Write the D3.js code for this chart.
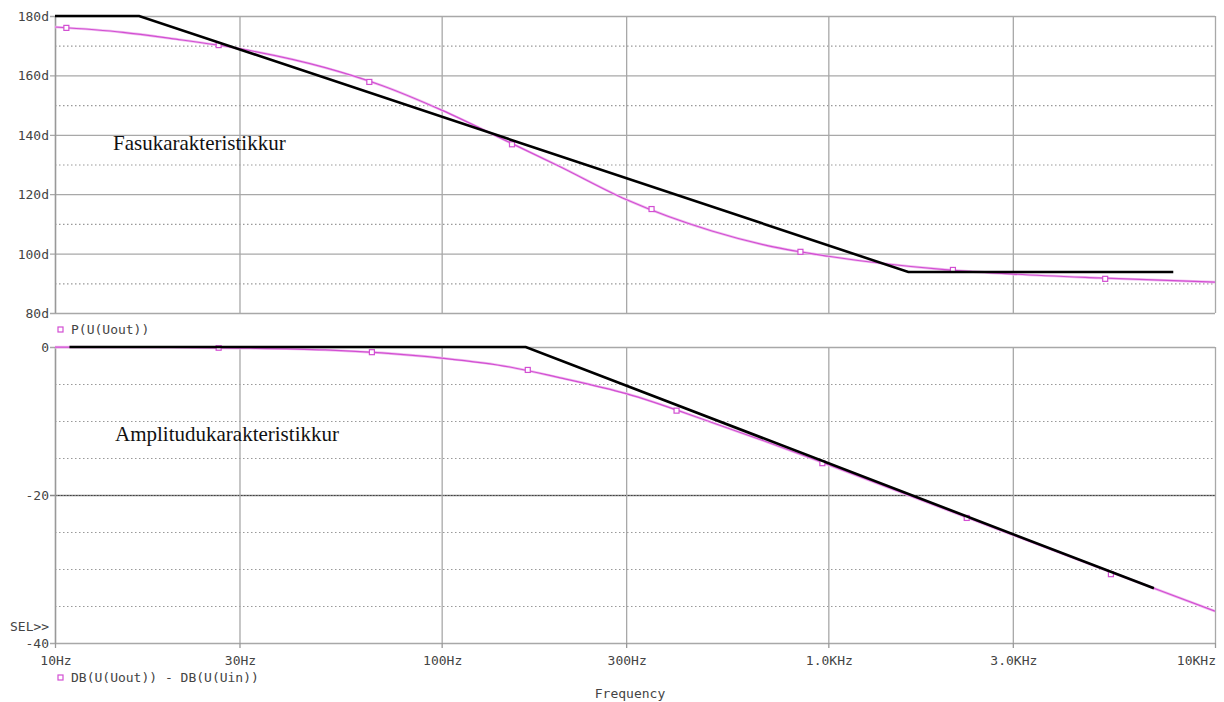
<!DOCTYPE html>
<html>
<head>
<meta charset="utf-8">
<script src="https://cdn.jsdelivr.net/npm/d3@7"></script>
<style>
  html, body { margin: 0; padding: 0; background: #fff; }
  svg { display: block; }
  .tick-label { font-family: "DejaVu Sans Mono", monospace; font-size: 13px; fill: #444; }
  .note { font-family: "Liberation Serif", "Times New Roman", serif; font-size: 21px; fill: #111; }
</style>
</head>
<body>
<div id="chart"></div>
<script>
const WIDTH  = 1224;
const HEIGHT = 702;

// x axis
const freqTicks      = [10, 30, 100, 300, 1000, 3000, 10000];
const freqTickLabels = ["10Hz", "30Hz", "100Hz", "300Hz", "1.0KHz", "3.0KHz", "10KHz"];

// phase plot (top)
const phaseTicks      = [180, 160, 140, 120, 100, 80];
const phaseTickLabels = ["180d", "160d", "140d", "120d", "100d", "80d"];
const phaseMinor      = [170, 150, 130, 110, 90];
const phaseFreq = [10, 15, 20, 30, 50, 70, 100, 150, 200, 300, 500, 700, 1000, 2000, 3000, 5000, 10000];
const phaseDeg  = [176.3, 174.5, 172.4, 169.0, 162.6, 156.6, 148.3, 137.4, 129.6, 118.2, 107.6, 102.6, 99.1, 94.6, 93.1, 91.8, 90.4];
const phaseMarkFreq = [10.7, 26.5, 65, 152, 349, 847, 2100, 5200];
const phaseMarkDeg  = [176, 170.2, 157.8, 136.8, 115, 100.6, 94.5, 91.5];
const phaseAsymFreq = [10, 16.5, 1610, 7800];
const phaseAsymDeg  = [180, 180, 93.8, 93.8];

// gain plot (bottom)
const gainTicks      = [0, -20, -40];
const gainTickLabels = ["0", "-20", "-40"];
const gainMinor      = [-5, -10, -15, -25, -30, -35];
const gainFreq = [10, 15, 20, 30, 50, 70, 100, 150, 200, 300, 500, 700, 1000, 2000, 3000, 5000, 10000];
const gainDb   = [-0.02, -0.04, -0.07, -0.15, -0.4, -0.8, -1.5, -2.7, -4.1, -6.3, -10.2, -12.9, -15.9, -21.9, -25.4, -29.8, -35.7];
const gainMarkFreq = [26.5, 66, 167, 405, 965, 2280, 5380];
const gainMarkDb   = [-0.1, -0.7, -3.1, -8.6, -15.7, -23.1, -30.7];
const gainAsymFreq = [10.9, 165, 6950];
const gainAsymDb   = [0, 0, -32.6];

const LEFT = 55, RIGHT = 1215;
const GRID = "#a8a8a8";
const CURVE = "#d24fd2";

const x = d3.scaleLog().domain([10, 10000]).range([LEFT, RIGHT]);
const yPhase = d3.scaleLinear().domain([80, 180]).range([313, 16]);
const yGain  = d3.scaleLinear().domain([-40, 0]).range([643, 347]);

const svg = d3.select("#chart").append("svg")
  .attr("width", WIDTH).attr("height", HEIGHT);

const defs = svg.append("defs");

function drawPanel(y, id, majors, majorLabels, minors, darkMinor) {
  const g = svg.append("g");
  const [y0, y1] = y.range();

  defs.append("clipPath").attr("id", id)
    .append("rect")
    .attr("x", LEFT).attr("y", y1 - 2)
    .attr("width", RIGHT - LEFT).attr("height", y0 - y1 + 4);

  // dotted minor lines
  g.selectAll(".minor").data(minors).join("line")
    .attr("x1", LEFT).attr("x2", RIGHT)
    .attr("y1", d => y(d) + 0.5).attr("y2", d => y(d) + 0.5)
    .attr("stroke", "#999").attr("stroke-width", 1.2)
    .attr("stroke-dasharray", "1.5,2.5");

  // solid major lines
  g.selectAll(".major").data(majors).join("line")
    .attr("x1", LEFT - 5).attr("x2", RIGHT)
    .attr("y1", d => y(d) + 0.5).attr("y2", d => y(d) + 0.5)
    .attr("stroke", d => d === darkMinor ? "#888" : GRID).attr("stroke-width", 1.3);

  if (darkMinor !== undefined) {
    g.append("line")
      .attr("x1", LEFT).attr("x2", RIGHT)
      .attr("y1", y(darkMinor) + 0.5).attr("y2", y(darkMinor) + 0.5)
      .attr("stroke", "#444").attr("stroke-width", 1.2)
      .attr("stroke-dasharray", "1.5,1.5");
  }

  // vertical lines
  g.selectAll(".vert").data(freqTicks).join("line")
    .attr("x1", d => x(d) + 0.5).attr("x2", d => x(d) + 0.5)
    .attr("y1", y1).attr("y2", y0)
    .attr("stroke", GRID).attr("stroke-width", 1.3);

  // left border
  g.append("line")
    .attr("x1", LEFT + 0.5).attr("x2", LEFT + 0.5)
    .attr("y1", y1).attr("y2", y0)
    .attr("stroke", "#999").attr("stroke-width", 1.4);

  g.selectAll(".ylab").data(majors).join("text")
    .attr("class", "tick-label")
    .attr("x", 49)
    .attr("y", d => y(d) + 5)
    .attr("text-anchor", "end")
    .text((d, i) => majorLabels[i]);
}

drawPanel(yPhase, "clipTop", phaseTicks, phaseTickLabels, phaseMinor);
drawPanel(yGain, "clipBot", gainTicks, gainTickLabels, gainMinor, -20);

// x tick marks and labels
svg.selectAll(".xtick").data(freqTicks).join("line")
  .attr("x1", d => x(d) + 0.5).attr("x2", d => x(d) + 0.5)
  .attr("y1", 643).attr("y2", 648)
  .attr("stroke", "#999").attr("stroke-width", 1.3);

svg.selectAll(".xlab").data(freqTicks).join("text")
  .attr("class", "tick-label")
  .attr("x", (d, i) => i === freqTicks.length - 1 ? RIGHT + 1 : x(d) + 1)
  .attr("y", 665)
  .attr("text-anchor", (d, i) => i === freqTicks.length - 1 ? "end" : "middle")
  .text((d, i) => freqTickLabels[i]);

svg.append("text").attr("class", "tick-label")
  .attr("x", 630).attr("y", 698).attr("text-anchor", "middle")
  .text("Frequency");

svg.append("text").attr("class", "tick-label")
  .attr("x", 10).attr("y", 631)
  .text("SEL>>");

// curves
function drawCurve(y, clip, fx, fy, mx, my, ax, ay) {
  const pts = fx.map((f, i) => [f, fy[i]]);
  const line = d3.line().x(d => x(d[0])).y(d => y(d[1])).curve(d3.curveMonotoneX);
  const g = svg.append("g").attr("clip-path", `url(#${clip})`);

  g.append("path").attr("d", line(pts))
    .attr("fill", "none").attr("stroke", "#f0bdf0").attr("stroke-width", 2.6);
  g.append("path").attr("d", line(pts))
    .attr("fill", "none").attr("stroke", CURVE).attr("stroke-width", 1.2);

  g.selectAll(".mark").data(mx.map((f, i) => [f, my[i]])).join("rect")
    .attr("x", d => x(d[0]) - 2.5).attr("y", d => y(d[1]) - 2.5)
    .attr("width", 5).attr("height", 5)
    .attr("fill", "#fff").attr("stroke", CURVE).attr("stroke-width", 1.2);

  const asym = ax.map((f, i) => [f, ay[i]]);
  svg.append("path")
    .attr("d", d3.line().x(d => x(d[0])).y(d => y(d[1]))(asym))
    .attr("fill", "none").attr("stroke", "#000").attr("stroke-width", 2.6);
}

drawCurve(yPhase, "clipTop", phaseFreq, phaseDeg, phaseMarkFreq, phaseMarkDeg, phaseAsymFreq, phaseAsymDeg);
drawCurve(yGain, "clipBot", gainFreq, gainDb, gainMarkFreq, gainMarkDb, gainAsymFreq, gainAsymDb);

// legends
function legend(yPos, label) {
  svg.append("rect")
    .attr("x", 58).attr("y", yPos - 7)
    .attr("width", 5).attr("height", 5)
    .attr("fill", "#fff").attr("stroke", CURVE).attr("stroke-width", 1.2);
  svg.append("text").attr("class", "tick-label")
    .attr("x", 71).attr("y", yPos)
    .text(label);
}
legend(334, "P(U(Uout))");
legend(682, "DB(U(Uout)) - DB(U(Uin))");

// annotations
svg.append("text").attr("class", "note")
  .attr("x", 113).attr("y", 150)
  .text("Fasukarakteristikkur");
svg.append("text").attr("class", "note")
  .attr("x", 115).attr("y", 441)
  .text("Amplitudukarakteristikkur");
</script>
</body>
</html>
